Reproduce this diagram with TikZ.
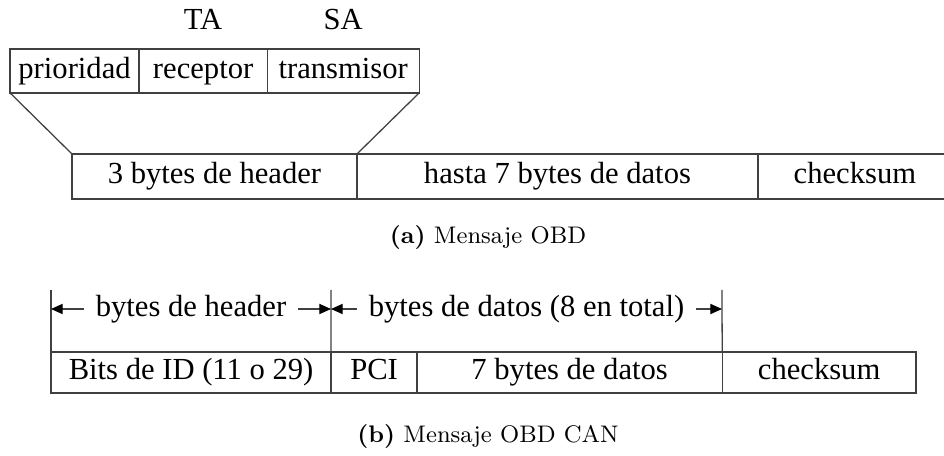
\documentclass[tikz,border=0pt]{standalone}
\usepackage{fontspec}
\newfontfamily\tnr{Liberation Serif}
\usetikzlibrary{positioning,arrows.meta}

\tikzset{
  campo/.style={draw=black!75, line width=0.5pt, inner sep=0pt, outer sep=0pt,
    text height=8.4pt, text depth=2.6pt,
    font=\tnr\fontsize{12}{14}\selectfont},
  etiq/.style={inner sep=0pt, text height=8.4pt, text depth=2.6pt,
    font=\tnr\fontsize{12}{14}\selectfont},
  linea/.style={draw=black!75, line width=0.5pt},
  punta/.style={Triangle[length=4.6pt,width=4pt,color=black]},
  cota/.style={linea, {Triangle[length=4.6pt,width=4pt,color=black]}-{Triangle[length=4.6pt,width=4pt,color=black]}},
  leyenda/.style={inner sep=0pt, font=\fontsize{9.4}{11}\selectfont}
}

\begin{document}
\begin{tikzpicture}[x=0.392pt,y=-0.392pt]
  \useasboundingbox (0,0) rectangle (944,456);

  % (a) mensaje OBD
  \node[campo, anchor=north west, minimum width=50.6pt, minimum height=17.2pt] (pri) at (10,49) {prioridad};
  \node[campo, right=0pt of pri, minimum width=50.2pt, minimum height=17.2pt] (rec) {receptor};
  \node[campo, right=0pt of rec, minimum width=59.6pt, minimum height=17.2pt] (tra) {transmisor};
  \node[etiq] (ta) at (rec.center |- 0,22) {TA};
  \node[etiq] (sa) at (tra.center |- 0,22) {SA};

  \node[campo, anchor=north west, minimum width=111.7pt, minimum height=17.6pt] (hdr) at (72,154) {3 bytes de header};
  \node[campo, right=0pt of hdr, minimum width=157.2pt, minimum height=17.6pt] (dat) {hasta 7 bytes de datos};
  \node[campo, right=0pt of dat, minimum width=76pt, minimum height=17.6pt] (chk) {checksum};

  \draw[linea] (pri.south west) -- (hdr.north west);
  \draw[linea] (tra.south east) -- (hdr.north east);

  \node[leyenda] (capa) at (488,238) {\textbf{(a)} Mensaje OBD};

  % (b) mensaje OBD CAN
  \node[campo, anchor=north west, minimum width=109.8pt, minimum height=16.1pt] (bid) at (51,352) {Bits de ID (11 o 29)};
  \node[campo, right=0pt of bid, minimum width=33.7pt, minimum height=16.1pt] (pci) {PCI};
  \node[campo, right=0pt of pci, minimum width=119.6pt, minimum height=16.1pt] (dat2) {7 bytes de datos};
  \node[campo, right=0pt of dat2, minimum width=76pt, minimum height=16.1pt] (chk2) {checksum};

  \coordinate (t1) at (51,290);
  \coordinate (t2) at (331,290);
  \coordinate (t3) at (722,290);
  \draw[linea] (t1) -- (bid.north west);
  \draw[linea] (t2) -- (pci.north west);
  \draw[linea] (t3) -- (chk2.north west);

  \coordinate (a1) at (51,309);
  \coordinate (a2) at (331,309);
  \coordinate (a3) at (722,309);
  \draw[cota] (a1) -- node[etiq, fill=white, inner xsep=4.5pt] (bh) {bytes de header} (a2);
  \draw[cota] (a2) -- node[etiq, fill=white, inner xsep=4.5pt] (bd) {bytes de datos (8 en total)} (a3);

  \node[leyenda] (capb) at (488,437) {\textbf{(b)} Mensaje OBD CAN};
\end{tikzpicture}
\end{document}
